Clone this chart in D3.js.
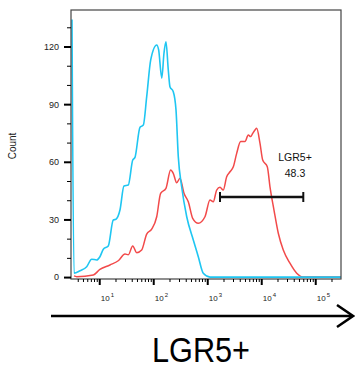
<!DOCTYPE html>
<html>
<head>
<meta charset="utf-8">
<script src="https://cdn.jsdelivr.net/npm/d3@7"></script>
<style>
  body { margin: 0; background: #fff; }
  svg { display: block; font-family: "Liberation Sans", Arial, sans-serif; }
</style>
</head>
<body>
<script>
// histogram data: fluorescence intensity -> count
const blueIntensity = [3.13, 3.41, 4.41, 5.86, 7.25, 8.97, 10.3, 11.9, 14.7, 18.2, 20.4, 24.2, 28.7, 34.5, 41.7, 45.9, 56.9, 65.5, 75.7, 89.8, 116, 126, 144, 158, 172, 190, 204, 235, 264, 291, 336, 417, 552, 683, 845, 1125, 300000];
const blueCount = [134, 2.0, 3.3, 5.4, 9.3, 8.9, 10.6, 14.5, 16.2, 29.7, 30.1, 34.9, 47.4, 47.9, 60.9, 62.3, 78.0, 79.1, 93.9, 113, 120.8, 118.2, 103.5, 116.5, 122.5, 107.8, 99.1, 96.5, 87.0, 62.7, 47.0, 31.4, 19.3, 10.6, 2.0, 0, 0];

const redIntensity = [3.41, 3.82, 7.77, 10.3, 15.8, 22.5, 30.0, 34.5, 41.7, 49.4, 61.1, 75.7, 93.6, 116, 137, 172, 210, 235, 272, 313, 371, 446, 538, 683, 908, 1125, 1294, 1496, 1723, 1983, 2291, 2637, 3040, 3510, 4165, 5000, 5760, 6380, 6950, 7660, 8240, 9490, 10640, 12950, 14520, 17220, 20700, 25600, 34000, 45400, 60100, 300000];
const redCount = [0.6, 0.2, 1.1, 4.0, 6.3, 8.5, 12.0, 11.6, 16.2, 12.7, 14.1, 22.4, 24.9, 31.4, 43.6, 46.2, 55.7, 54.0, 49.1, 51.4, 43.6, 39.2, 30.6, 28.0, 31.4, 40.1, 39.2, 45.3, 46.7, 45.3, 52.2, 54.8, 57.4, 64.4, 70.5, 70.5, 73.9, 73.1, 74.8, 76.5, 77.4, 69.6, 60.9, 57.4, 47.0, 34.9, 22.8, 14.1, 7.2, 2.0, 0, 0];

const yMajorTicks = [0, 30, 60, 90, 120];
const yMinorTicks = [10, 20, 40, 50, 70, 80, 100, 110, 130];
const xMajorTicks = [10, 100, 1000, 10000, 100000];
const xMajorExponents = ["1", "2", "3", "4", "5"];

// gate "LGR5+" range and its percentage
const gateRange = [1723, 60100];
const gateName = "LGR5+";
const gateValue = "48.3";
const axisTitle = "LGR5+";

const width = 355;
const height = 370;
const plotLeft = 71, plotRight = 341, plotTop = 10, plotBottom = 279;

const svg = d3.select("body").append("svg")
    .attr("width", width)
    .attr("height", height);

const x = d3.scaleLog().domain([3, 300000]).range([plotLeft, plotRight]);
const y = d3.scaleLinear().domain([-1, 139]).range([plotBottom, plotTop]);

// minor x ticks 2..9 of every decade
const xMinorTicks = [];
for (let e = 0; e <= 5; e++) {
    for (let m = 2; m <= 9; m++) {
        const v = m * Math.pow(10, e);
        if (v > 3 && v < 300000) xMinorTicks.push(v);
    }
}

const line = d3.line()
    .x(d => x(d[0]))
    .y(d => y(d[1]))
    .curve(d3.curveMonotoneX);

svg.append("path")
    .datum(d3.zip(redIntensity, redCount))
    .attr("fill", "none")
    .attr("stroke", "#f24a4a")
    .attr("stroke-width", 1.5)
    .attr("d", line);

svg.append("path")
    .datum(d3.zip(blueIntensity, blueCount))
    .attr("fill", "none")
    .attr("stroke", "#1fc6f2")
    .attr("stroke-width", 1.6)
    .attr("d", line);

// frame
svg.append("rect")
    .attr("x", plotLeft).attr("y", plotTop)
    .attr("width", plotRight - plotLeft).attr("height", plotBottom - plotTop)
    .attr("fill", "none")
    .attr("stroke", "#444")
    .attr("stroke-width", 1.2);

// y axis
const yMajor = svg.append("g")
    .attr("transform", `translate(${plotLeft},0)`)
    .call(d3.axisLeft(y).tickValues(yMajorTicks).tickSize(7).tickPadding(5));
yMajor.select(".domain").remove();
yMajor.selectAll("line").attr("stroke", "#000").attr("stroke-width", 2);
yMajor.selectAll("text").attr("font-size", "9px").attr("fill", "#222")
    .attr("font-family", "Liberation Sans, Arial, sans-serif");

const yMinor = svg.append("g")
    .attr("transform", `translate(${plotLeft},0)`)
    .call(d3.axisLeft(y).tickValues(yMinorTicks).tickSize(4).tickFormat(""));
yMinor.select(".domain").remove();
yMinor.selectAll("line").attr("stroke", "#000").attr("stroke-width", 1);

svg.append("text")
    .text("Count")
    .attr("font-size", "10px")
    .attr("fill", "#222")
    .attr("text-anchor", "middle")
    .attr("transform", `translate(16,146) rotate(-90)`);

// x axis
const xMajor = svg.append("g")
    .attr("transform", `translate(0,${plotBottom})`)
    .call(d3.axisBottom(x).tickValues(xMajorTicks).tickSize(6).tickFormat(""));
xMajor.select(".domain").remove();
xMajor.selectAll("line").attr("stroke", "#000").attr("stroke-width", 2);

const xMinor = svg.append("g")
    .attr("transform", `translate(0,${plotBottom})`)
    .call(d3.axisBottom(x).tickValues(xMinorTicks).tickSize(3).tickFormat(""));
xMinor.select(".domain").remove();
xMinor.selectAll("line").attr("stroke", "#000").attr("stroke-width", 1);

const xLabels = xMajor.selectAll(".tick").append("text")
    .attr("x", 1)
    .attr("y", 22)
    .attr("fill", "#222")
    .attr("font-size", "8px")
    .attr("text-anchor", "start");
xLabels.append("tspan").text("10");
xLabels.append("tspan")
    .text((d, i) => xMajorExponents[i])
    .attr("font-size", "6px")
    .attr("dy", -4)
    .attr("dx", 1);

// gate
const gy = 197;
const gate = svg.append("g").attr("stroke", "#111").attr("stroke-width", 2.5);
gate.append("line")
    .attr("x1", x(gateRange[0])).attr("x2", x(gateRange[1]))
    .attr("y1", gy).attr("y2", gy);
gate.selectAll("line.cap")
    .data(gateRange)
    .join("line")
    .attr("class", "cap")
    .attr("x1", d => x(d)).attr("x2", d => x(d))
    .attr("y1", gy - 5).attr("y2", gy + 5)
    .attr("stroke-width", 2);

svg.append("text")
    .text(gateName)
    .attr("x", 295).attr("y", 161)
    .attr("font-size", "10.5px")
    .attr("fill", "#111")
    .attr("text-anchor", "middle");
svg.append("text")
    .text(gateValue)
    .attr("x", 295).attr("y", 176.5)
    .attr("font-size", "10.5px")
    .attr("fill", "#111")
    .attr("text-anchor", "middle");

// big arrow under the axis
svg.append("line")
    .attr("x1", 51).attr("x2", 352)
    .attr("y1", 316).attr("y2", 316)
    .attr("stroke", "#000").attr("stroke-width", 2.5);
svg.append("path")
    .attr("d", "M337,305 L353,316 L337,327")
    .attr("fill", "none")
    .attr("stroke", "#000")
    .attr("stroke-width", 2.5);

svg.append("text")
    .text(axisTitle)
    .attr("x", 201).attr("y", 362)
    .attr("font-size", "35px")
    .attr("text-anchor", "middle")
    .attr("textLength", 98)
    .attr("lengthAdjust", "spacingAndGlyphs")
    .attr("fill", "#000");
</script>
</body>
</html>
